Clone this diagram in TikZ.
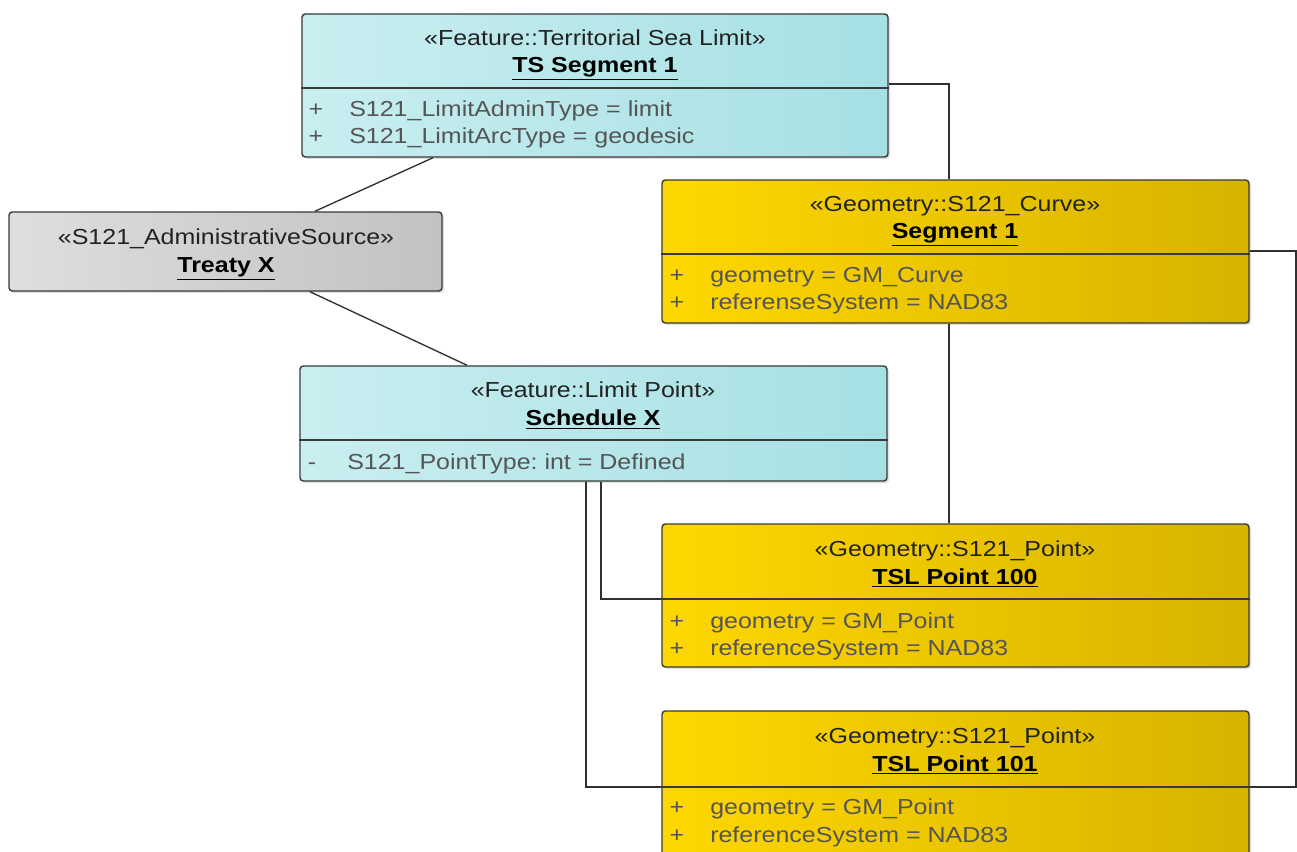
\documentclass[tikz,border=0pt]{standalone}
\usepackage{fontspec}
\setmainfont{Liberation Sans}[FakeStretch=1.15]
\usepackage{xcolor}
\usepackage{tikz}
\usetikzlibrary{positioning,fit,shadows}
\frenchspacing
\definecolor{featL}{HTML}{C9EEF0}
\definecolor{featR}{HTML}{A6E0E4}
\definecolor{geomL}{HTML}{FFD700}
\definecolor{geomR}{HTML}{D6B300}
\definecolor{srcL}{HTML}{DEDEDE}
\definecolor{srcR}{HTML}{C2C2C2}
\definecolor{boxline}{HTML}{3A3A3A}
\definecolor{linkcol}{HTML}{303030}
\definecolor{attrtxt}{HTML}{555555}
\definecolor{stereotxt}{HTML}{222222}
\tikzset{
    umlbox/.style={
        draw=boxline,
        line width=1.1pt,
        rounded corners=2.5pt,
        inner sep=0pt,
        drop shadow={shadow xshift=1.5pt,shadow yshift=-1.5pt,opacity=0.25}
    },
    featbox/.style={umlbox, left color=featL, right color=featR},
    geombox/.style={umlbox, left color=geomL, right color=geomR},
    srcbox/.style={umlbox, left color=srcL, right color=srcR},
    divider/.style={draw=boxline, line width=1pt},
    stereo/.style={anchor=base, inner sep=0pt, text=stereotxt,
        font=\fontsize{16.3}{20}\selectfont},
    objname/.style={anchor=base, inner sep=0pt, text=black,
        font=\fontsize{16.3}{20}\selectfont\bfseries},
    vis/.style={anchor=base, inner sep=0pt, text=attrtxt,
        font=\fontsize{16.3}{20}\selectfont},
    attr/.style={anchor=base west, inner sep=0pt, text=attrtxt,
        font=\fontsize{16.3}{20}\selectfont},
    link/.style={draw=linkcol, line width=1pt}
}

\begin{document}
\begin{tikzpicture}[x=0.75pt,y=-0.75pt]
    \clip (0,0) rectangle (1297,852);
    \fill[white] (0,0) rectangle (1297,852);

    % object boxes
    \node[featbox, fit={(302,14) (888,157)}] (tsseg) {};
    \node[srcbox, fit={(9,212) (442,291)}] (treaty) {};
    \node[featbox, fit={(300,366) (887,481)}] (sched) {};
    \node[geombox, fit={(662,180) (1249,323)}] (seg) {};
    \node[geombox, fit={(662,524) (1249,667)}] (pt100) {};
    \node[geombox, fit={(662,711) (1249,880)}] (pt101) {};

    % links
    \coordinate (rbend) at (1296,251);
    \draw[link] (tsseg.east |- 0,84) -| (seg.north -| 949,0);
    \draw[link] (tsseg.south -| 433,0) -- (treaty.north -| 315,0);
    \draw[link] (treaty.south -| 310,0) -- (sched.north -| 467,0);
    \draw[link] (seg.south -| 949,0) -- (pt100.north -| 949,0);
    \draw[link] (seg.east |- rbend) -- (rbend) |- (pt101.east |- 0,787);
    \draw[link] (sched.south -| 601,0) |- (pt100.west |- 0,599);
    \draw[link] (sched.south -| 586,0) |- (pt101.west |- 0,787);

    % compartment lines
    \draw[divider] (tsseg.west |- 0,88) -- (tsseg.east |- 0,88);
    \draw[divider] (sched.west |- 0,440) -- (sched.east |- 0,440);
    \draw[divider] (seg.west |- 0,254) -- (seg.east |- 0,254);
    \draw[divider] (pt100.west |- 0,599) -- (pt100.east |- 0,599);
    \draw[divider] (pt101.west |- 0,787) -- (pt101.east |- 0,787);

    % territorial sea limit
    \node[stereo] (tsseg-st) at (595,46) {«Feature::Territorial Sea Limit»};
    \node[objname] (tsseg-nm) at (595,73) {\underline{TS Segment 1}};
    \foreach \i/\yy/\txt in {1/116.5/{S121\_LimitAdminType = limit},
                             2/143.5/{S121\_LimitArcType = geodesic}}
    {
        \node[vis] (tsseg-v\i) at (316,\yy) {+};
        \node[attr] (tsseg-a\i) at (349,\yy) {\txt};
    }

    % source
    \node[stereo] (treaty-st) at (226,245) {«S121\_AdministrativeSource»};
    \node[objname] (treaty-nm) at (226,273) {\underline{Treaty X}};

    % limit point
    \node[stereo] (sched-st) at (593,398) {«Feature::Limit Point»};
    \node[objname] (sched-nm) at (593,426) {\underline{Schedule X}};
    \node[vis] (sched-v1) at (312,469.5) {-};
    \node[attr] (sched-a1) at (347,469.5) {S121\_PointType: int = Defined};

    % geometry
    \node[stereo] (seg-st) at (955,212) {«Geometry::S121\_Curve»};
    \node[objname] (seg-nm) at (955,239) {\underline{Segment 1}};
    \foreach \i/\yy/\txt in {1/282.5/{geometry = GM\_Curve},
                             2/309.5/{referenseSystem = NAD83}}
    {
        \node[vis] (seg-v\i) at (677,\yy) {+};
        \node[attr] (seg-a\i) at (710,\yy) {\txt};
    }

    \node[stereo] (pt100-st) at (955,556) {«Geometry::S121\_Point»};
    \node[objname] (pt100-nm) at (955,584) {\underline{TSL Point 100}};
    \foreach \i/\yy/\txt in {1/628/{geometry = GM\_Point},
                             2/655.5/{referenceSystem = NAD83}}
    {
        \node[vis] (pt100-v\i) at (677,\yy) {+};
        \node[attr] (pt100-a\i) at (710,\yy) {\txt};
    }

    \node[stereo] (pt101-st) at (955,743) {«Geometry::S121\_Point»};
    \node[objname] (pt101-nm) at (955,771) {\underline{TSL Point 101}};
    \foreach \i/\yy/\txt in {1/814.5/{geometry = GM\_Point},
                             2/842/{referenceSystem = NAD83}}
    {
        \node[vis] (pt101-v\i) at (677,\yy) {+};
        \node[attr] (pt101-a\i) at (710,\yy) {\txt};
    }
\end{tikzpicture}
\end{document}
